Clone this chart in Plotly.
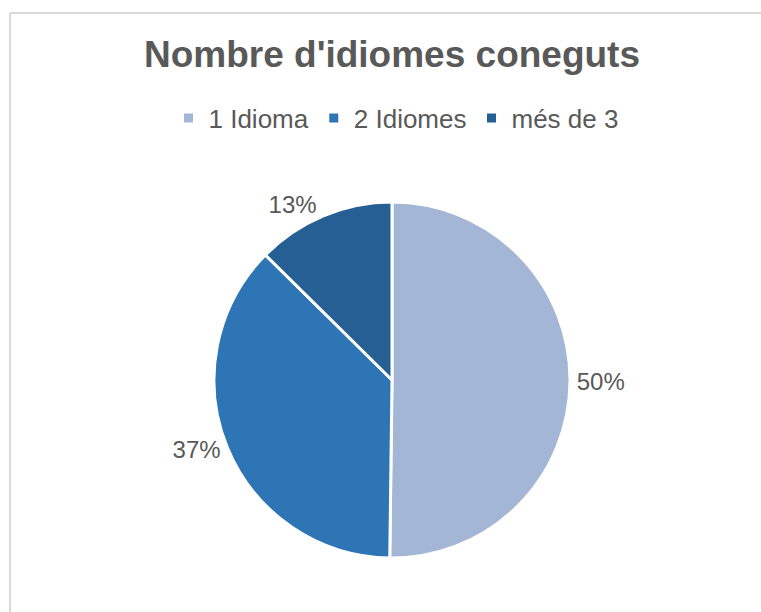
import plotly.graph_objects as go

labels = ["1 Idioma", "2 Idiomes", "més de 3"]
values = [50.2, 37.2, 12.6]
colors = ["#A4B6D5", "#2E75B6", "#255F93"]

W, H = 761, 612
cx, cy, r = 392, 380, 178

fig = go.Figure(go.Pie(
    labels=labels,
    values=values,
    sort=False,
    direction="clockwise",
    rotation=0,
    marker=dict(colors=colors, line=dict(color="white", width=3)),
    texttemplate="%{percent:.0%}",
    textposition="outside",
    outsidetextfont=dict(size=24, color="#595959", family="Liberation Sans, Arial"),
    domain=dict(x=[(cx - r) / W, (cx + r) / W], y=[1 - (cy + r) / H, 1 - (cy - r) / H]),
    hoverinfo="label+percent",
))

fig.update_layout(
    width=W, height=H,
    margin=dict(l=0, r=0, t=0, b=0),
    paper_bgcolor="white",
    plot_bgcolor="white",
    font=dict(family="Liberation Sans, Arial", color="#595959"),
    title=dict(
        text="<b>Nombre d'idiomes coneguts</b>",
        font=dict(size=37, color="#595959", family="Liberation Sans, Arial"),
        x=392 / W, xanchor="center",
        y=1 - 54 / H, yanchor="middle", yref="container",
    ),
    legend=dict(
        orientation="h",
        x=396 / W, xanchor="center",
        y=1 - 118 / H, yanchor="middle",
        font=dict(size=26, color="#595959"),
        itemwidth=30,
        traceorder="normal",
    ),
    shapes=[
        dict(type="line", xref="paper", yref="paper",
             x0=10 / W, x1=10 / W, y0=0, y1=1 - 13 / H,
             line=dict(color="#D9D9D9", width=2)),
        dict(type="line", xref="paper", yref="paper",
             x0=10 / W, x1=1, y0=1 - 13 / H, y1=1 - 13 / H,
             line=dict(color="#D9D9D9", width=2)),
    ],
)

fig.write_html(
    "out.html",
    config={"displayModeBar": False},
    post_script="document.body.style.margin='0';document.body.style.overflow='hidden';",
)
